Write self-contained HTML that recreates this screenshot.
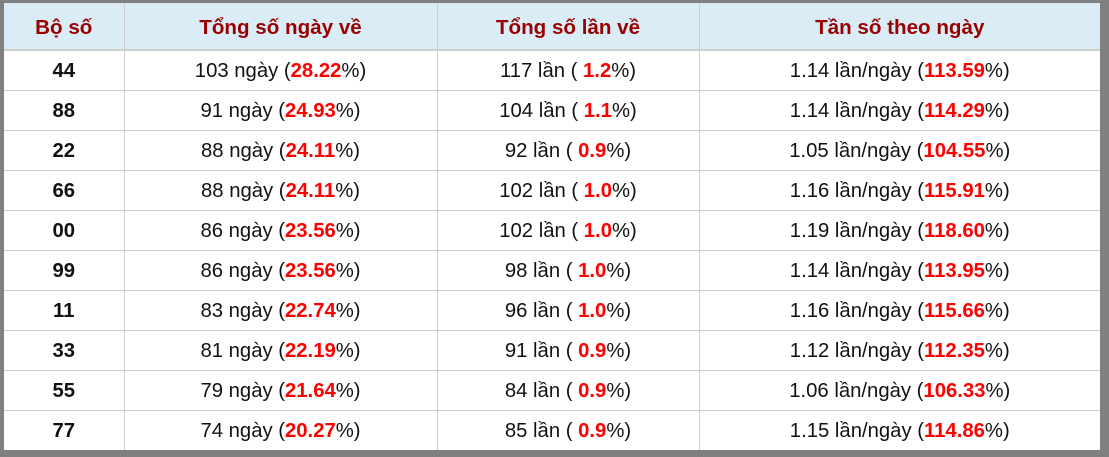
<!DOCTYPE html>
<html><head><meta charset="utf-8"><style>
body{margin:0;width:1109px;height:457px;background:#808080;position:relative;overflow:hidden;font-family:"Liberation Sans",Arial,sans-serif}
table{position:absolute;left:4px;top:3px;width:1096px;height:447px;border-collapse:collapse;background:#fff;table-layout:fixed}
td,th{border-left:1px solid #ccc;border-bottom:1px solid #ccc;text-align:center;padding:0;font-size:20.3px;color:#111;box-sizing:border-box}
tr>*:first-child{border-left:none}
th{background:#daedf6;color:#990000;font-weight:bold;height:47px;border-bottom:2px solid #ccc;font-size:20.6px;padding-top:4px}
td{height:40px;padding-top:3px}
td:first-child{font-weight:bold}
tr:last-child td{border-bottom:none}
b{color:#f00}
</style></head><body>
<table>
<colgroup><col style="width:120px"><col style="width:313px"><col style="width:262px"><col></colgroup>
<tr><th>Bộ số</th><th>Tổng số ngày về</th><th>Tổng số lần về</th><th>Tần số theo ngày</th></tr>
<tr><td>44</td><td>103 ngày (<b>28.22</b>%)</td><td>117 lần ( <b>1.2</b>%)</td><td>1.14 lần/ngày (<b>113.59</b>%)</td></tr>
<tr><td>88</td><td>91 ngày (<b>24.93</b>%)</td><td>104 lần ( <b>1.1</b>%)</td><td>1.14 lần/ngày (<b>114.29</b>%)</td></tr>
<tr><td>22</td><td>88 ngày (<b>24.11</b>%)</td><td>92 lần ( <b>0.9</b>%)</td><td>1.05 lần/ngày (<b>104.55</b>%)</td></tr>
<tr><td>66</td><td>88 ngày (<b>24.11</b>%)</td><td>102 lần ( <b>1.0</b>%)</td><td>1.16 lần/ngày (<b>115.91</b>%)</td></tr>
<tr><td>00</td><td>86 ngày (<b>23.56</b>%)</td><td>102 lần ( <b>1.0</b>%)</td><td>1.19 lần/ngày (<b>118.60</b>%)</td></tr>
<tr><td>99</td><td>86 ngày (<b>23.56</b>%)</td><td>98 lần ( <b>1.0</b>%)</td><td>1.14 lần/ngày (<b>113.95</b>%)</td></tr>
<tr><td>11</td><td>83 ngày (<b>22.74</b>%)</td><td>96 lần ( <b>1.0</b>%)</td><td>1.16 lần/ngày (<b>115.66</b>%)</td></tr>
<tr><td>33</td><td>81 ngày (<b>22.19</b>%)</td><td>91 lần ( <b>0.9</b>%)</td><td>1.12 lần/ngày (<b>112.35</b>%)</td></tr>
<tr><td>55</td><td>79 ngày (<b>21.64</b>%)</td><td>84 lần ( <b>0.9</b>%)</td><td>1.06 lần/ngày (<b>106.33</b>%)</td></tr>
<tr><td>77</td><td>74 ngày (<b>20.27</b>%)</td><td>85 lần ( <b>0.9</b>%)</td><td>1.15 lần/ngày (<b>114.86</b>%)</td></tr>
</table>
</body></html>
